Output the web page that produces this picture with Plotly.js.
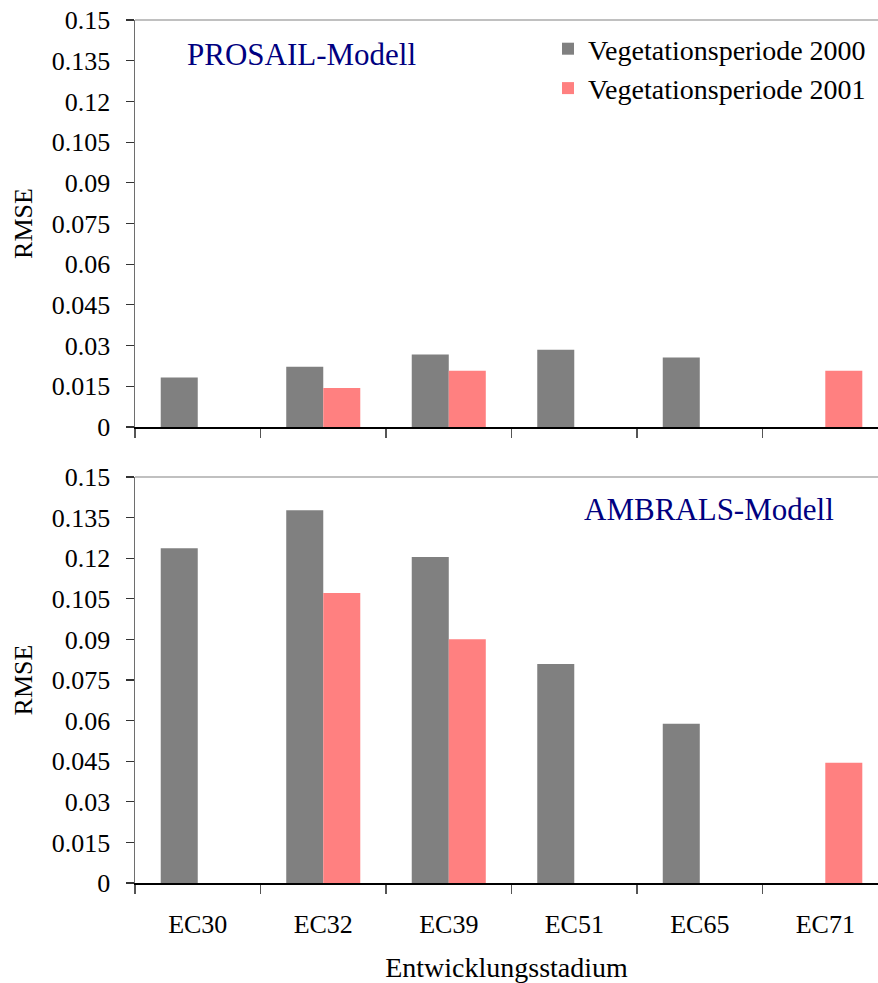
<!DOCTYPE html>
<html>
<head>
<meta charset="utf-8">
<script src="https://cdn.plot.ly/plotly-3.0.1.min.js"></script>
<style>html,body{margin:0;padding:0;background:#fff;}#chart{width:878px;height:983px;}</style>
</head>
<body>
<div id="chart"></div>
<script>
const stages = ["EC30", "EC32", "EC39", "EC51", "EC65", "EC71"];
const prosail2000 = [0.0182, 0.0222, 0.0267, 0.0285, 0.0256, null];
const prosail2001 = [null, 0.0144, 0.0207, null, null, 0.0207];
const ambrals2000 = [0.1237, 0.1377, 0.1204, 0.0809, 0.0588, null];
const ambrals2001 = [null, 0.1071, 0.0901, null, null, 0.0444];
const seriesNames = ["Vegetationsperiode 2000", "Vegetationsperiode 2001"];
const panelLabels = ["PROSAIL-Modell", "AMBRALS-Modell"];

const gray = "#808080", pink = "#FF8080";
const font = "Liberation Serif";

const traces = [
  {type: "bar", x: stages, y: prosail2000, name: seriesNames[0], marker: {color: gray}, xaxis: "x", yaxis: "y", legendgroup: "a"},
  {type: "bar", x: stages, y: prosail2001, name: seriesNames[1], marker: {color: pink}, xaxis: "x", yaxis: "y", legendgroup: "b"},
  {type: "bar", x: stages, y: ambrals2000, name: seriesNames[0], marker: {color: gray}, xaxis: "x2", yaxis: "y2", showlegend: false, legendgroup: "a"},
  {type: "bar", x: stages, y: ambrals2001, name: seriesNames[1], marker: {color: pink}, xaxis: "x2", yaxis: "y2", showlegend: false, legendgroup: "b"}
];

const xRange = [-0.5, 5.42];
const yCommon = {
  range: [0, 0.15], dtick: 0.015, tick0: 0, showgrid: false, zeroline: false,
  showline: true, linecolor: "#6e6e6e", linewidth: 1.5,
  ticks: "outside", ticklen: 8, tickcolor: "#333", tickwidth: 1.2,
  tickfont: {family: font, size: 26, color: "#000"},
  ticklabelstandoff: 10
};
const xCommon = {
  type: "category", range: xRange, tickson: "boundaries",
  showgrid: false, zeroline: false, showline: true, linecolor: "#000", linewidth: 1.5,
  ticks: "outside", ticklen: 9, tickcolor: "#555", tickwidth: 1.2,
  tickfont: {family: font, size: 26, color: "#000"}
};

const layout = {
  width: 878, height: 983,
  margin: {l: 135, r: 0, t: 20, b: 100},
  paper_bgcolor: "#fff", plot_bgcolor: "#fff",
  font: {family: font, color: "#000"},
  barmode: "group", bargap: 0.41, bargroupgap: 0,
  showlegend: true,
  legend: {
    x: (548 - 135) / 743, y: 1 - 4 / 863, xanchor: "left", yanchor: "top",
    font: {family: font, size: 28, color: "#000"},
    bgcolor: "rgba(0,0,0,0)", tracegroupgap: 0, itemwidth: 30
  },
  xaxis: Object.assign({}, xCommon, {domain: [0, 1], anchor: "y", showticklabels: false}),
  yaxis: Object.assign({}, yCommon, {domain: [456 / 863, 1], anchor: "x",
    title: {text: "RMSE", font: {family: font, size: 26, color: "#000"}, standoff: 11}}),
  xaxis2: Object.assign({}, xCommon, {domain: [0, 1], anchor: "y2", ticklabelstandoff: 17,
    title: {text: "Entwicklungsstadium", font: {family: font, size: 28, color: "#000"}, standoff: 22}}),
  yaxis2: Object.assign({}, yCommon, {domain: [0, 406 / 863], anchor: "x2",
    title: {text: "RMSE", font: {family: font, size: 26, color: "#000"}, standoff: 11}}),
  shapes: [
    {type: "line", xref: "paper", x0: 0, x1: 1, yref: "y domain", y0: 1, y1: 1, line: {color: "#c0c0c0", width: 2}},
    {type: "line", xref: "paper", x0: 0, x1: 1, yref: "y2 domain", y0: 1, y1: 1, line: {color: "#c0c0c0", width: 2}}
  ],
  annotations: [
    {text: panelLabels[0], xref: "paper", yref: "paper", x: (301 - 135) / 743, y: 1 - (55 - 20) / 863,
     xanchor: "center", yanchor: "middle", showarrow: false, font: {family: font, size: 31, color: "#000080"}},
    {text: panelLabels[1], xref: "paper", yref: "paper", x: (709 - 135) / 743, y: 1 - (509 - 20) / 863,
     xanchor: "center", yanchor: "middle", showarrow: false, font: {family: font, size: 31, color: "#000080"}}
  ]
};

Plotly.newPlot("chart", traces, layout, {staticPlot: true, displayModeBar: false});
</script>
</body>
</html>
